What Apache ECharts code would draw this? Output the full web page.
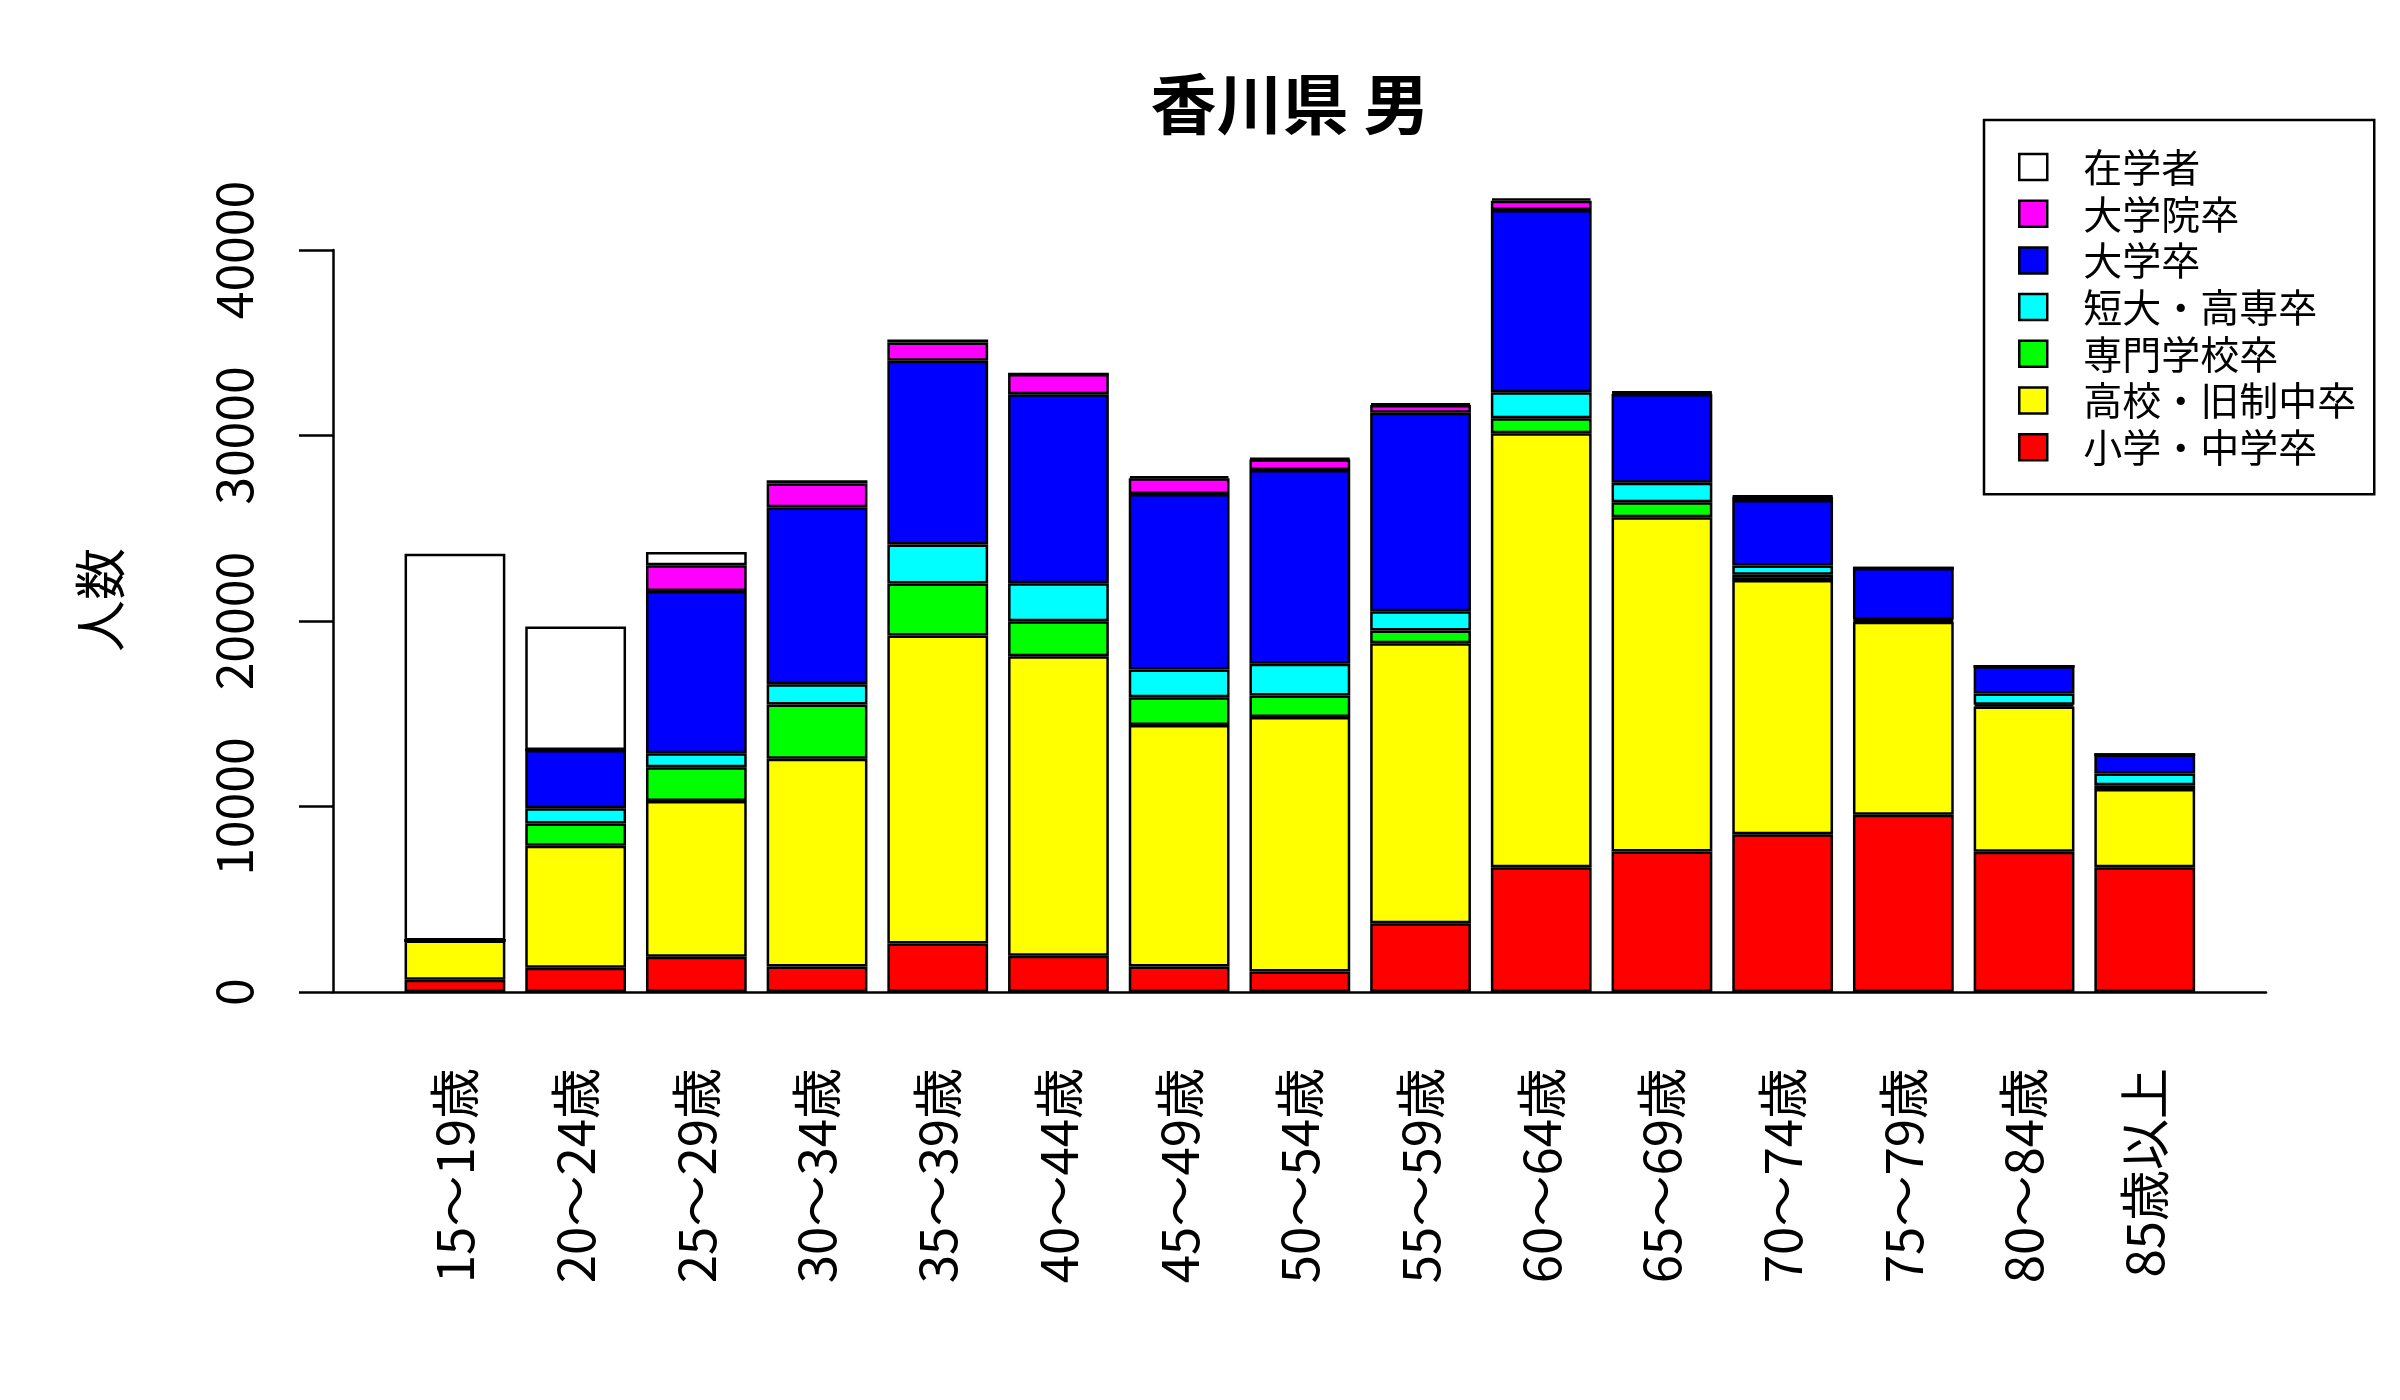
<!DOCTYPE html>
<html>
<head>
<meta charset="utf-8">
<script src="https://cdn.jsdelivr.net/npm/echarts@6/dist/echarts.min.js"></script>
<style>
html,body{margin:0;padding:0;background:#fff;}
#chart{width:2400px;height:1400px;}
</style>
</head>
<body>
<div id="chart"></div>
<script>
const categories = ['15～19歳','20～24歳','25～29歳','30～34歳','35～39歳','40～44歳','45～49歳','50～54歳','55～59歳','60～64歳','65～69歳','70～74歳','75～79歳','80～84歳','85歳以上'];
const yTicks = [0, 10000, 20000, 30000, 40000];

const elementary = [660, 1310, 1900, 1380, 2620, 1950, 1380, 1110, 3710, 6730, 7570, 8500, 9560, 7560, 6720];
const highSchool = [2110, 6580, 8400, 11200, 16600, 16150, 13020, 13710, 15090, 23390, 18020, 13710, 10400, 7830, 4230];
const vocational = [0, 1200, 1810, 2920, 2800, 1880, 1490, 1170, 690, 810, 810, 290, 60, 100, 200];
const juniorCollege = [0, 810, 760, 1090, 2100, 2060, 1500, 1700, 1040, 1400, 1050, 490, 60, 600, 630];
const university = [0, 3150, 8750, 9540, 9910, 10180, 9460, 10450, 10700, 9820, 4790, 3530, 2780, 1470, 1020];
const graduate = [0, 0, 1380, 1280, 990, 1090, 840, 570, 410, 510, 60, 180, 0, 0, 0];
const students = [20860, 6660, 720, 180, 150, 0, 120, 60, 90, 120, 60, 40, 0, 0, 0];

const seriesNames = ['小学・中学卒','高校・旧制中卒','専門学校卒','短大・高専卒','大学卒','大学院卒','在学者'];
const seriesData = [elementary, highSchool, vocational, juniorCollege, university, graduate, students];
const seriesColors = ['#FF0000','#FFFF00','#00FF00','#00FFFF','#0000FF','#FF00FF','#FFFFFF'];
const legendOrder = ['在学者','大学院卒','大学卒','短大・高専卒','専門学校卒','高校・旧制中卒','小学・中学卒'];

const FONT = '"Noto Sans CJK JP", "Noto Sans CJK SC", sans-serif';
const chart = echarts.init(document.getElementById('chart'), null, {renderer: 'canvas'});

const series = seriesNames.map((name, i) => ({
  name: name,
  type: 'bar',
  stack: 'total',
  xAxisIndex: 1,
  yAxisIndex: 1,
  barWidth: '83.5%',
  clip: false,
  data: seriesData[i],
  itemStyle: {color: seriesColors[i], borderColor: '#000', borderWidth: 2.5},
  emphasis: {disabled: true}
}));

chart.setOption({
  animation: false,
  backgroundColor: '#fff',
  title: {
    text: '香川県 男',
    left: 1290,
    top: 71,
    padding: 0,
    textAlign: 'center',
    textStyle: {fontFamily: FONT, fontWeight: 'bold', fontSize: 66, color: '#000'}
  },
  legend: {
    orient: 'vertical',
    left: 1984,
    top: 120,
    data: legendOrder,
    icon: 'rect',
    itemWidth: 28,
    itemHeight: 26,
    itemGap: 7.7,
    padding: [27.5, 18, 27.5, 34],
    borderColor: '#000',
    borderWidth: 2.5,
    selectedMode: false,
    itemStyle: {borderColor: '#000', borderWidth: 2.5},
    textStyle: {fontFamily: FONT, fontSize: 39, color: '#000', padding: [0, 0, 0, 31]}
  },
  grid: [
    {left: 333, right: 134, top: 250, bottom: 408, containLabel: false},
    {left: 394.6, right: 194.9, top: 250, bottom: 408, containLabel: false}
  ],
  xAxis: [
    {
      type: 'value', gridIndex: 0, min: 0, max: 1,
      axisLine: {show: true, lineStyle: {color: '#000', width: 2.5}},
      axisTick: {show: false}, axisLabel: {show: false}, splitLine: {show: false}
    },
    {
      type: 'category', gridIndex: 1, data: categories,
      axisLine: {show: false}, axisTick: {show: false}, splitLine: {show: false},
      axisLabel: {rotate: 90, margin: 76, interval: 0, fontFamily: FONT, fontSize: 51, color: '#000'}
    }
  ],
  yAxis: [
    {
      type: 'value', gridIndex: 0, min: yTicks[0], max: yTicks[yTicks.length - 1], interval: yTicks[1] - yTicks[0],
      axisLine: {show: true, lineStyle: {color: '#000', width: 2.5}},
      axisTick: {show: true, length: 34, lineStyle: {color: '#000', width: 2.5}},
      splitLine: {show: false},
      axisLabel: {rotate: 90, margin: 74, fontFamily: FONT, fontSize: 50, color: '#000', formatter: v => String(v)}
    },
    {
      type: 'value', gridIndex: 1, min: yTicks[0], max: yTicks[yTicks.length - 1], show: false
    }
  ],
  graphic: [{
    type: 'text',
    x: 100, y: 600,
    rotation: Math.PI / 2,
    style: {text: '人数', align: 'center', verticalAlign: 'middle', font: '52px ' + FONT, fill: '#000'}
  }],
  series: series
});
</script>
</body>
</html>
